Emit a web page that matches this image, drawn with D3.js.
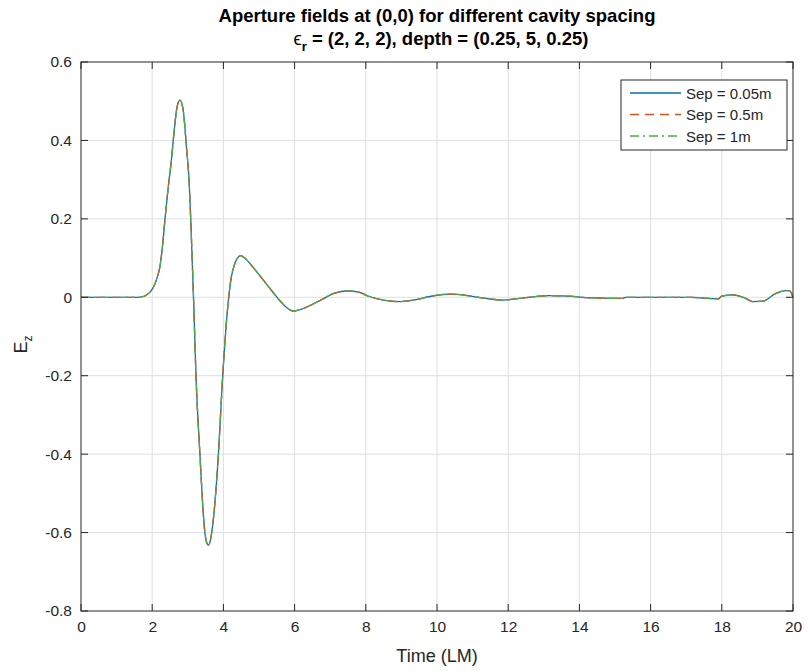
<!DOCTYPE html>
<html>
<head>
<meta charset="utf-8">
<script src="https://cdn.jsdelivr.net/npm/d3@7"></script>
<style>
  body { margin: 0; background: #fff; }
  svg { font-family: "Liberation Sans", Arial, sans-serif; }
</style>
</head>
<body>
<svg id="chart" width="808" height="671"></svg>
<script>
// sample times (LM)
var time = [0, 1.0, 1.6, 1.75, 1.9, 2.03, 2.12, 2.22, 2.3, 2.36, 2.45, 2.54, 2.62, 2.70, 2.78,
  2.87, 2.96, 3.04, 3.09, 3.16, 3.23, 3.34, 3.48, 3.54, 3.58, 3.62, 3.70, 3.86, 3.98, 4.07,
  4.15, 4.22, 4.3, 4.38, 4.49, 4.6, 4.8, 5.0, 5.2, 5.4, 5.6, 5.8, 5.96, 6.2, 6.5, 6.8, 7.1,
  7.5, 7.8, 8.1, 8.5, 8.96, 9.4, 9.8, 10.37, 10.8, 11.3, 11.85, 12.4, 13.17, 13.7, 14.2,
  15.2, 15.3, 17.1, 17.9, 18.0, 18.3, 18.65, 18.87, 19.15, 19.5, 19.8, 19.9, 20];

// Ez for each cavity separation (curves overlap almost exactly)
var sep005 = [0, 0, 0, 0.002, 0.01, 0.025, 0.045, 0.08, 0.14, 0.2, 0.28, 0.35, 0.427, 0.486, 0.503,
  0.478, 0.385, 0.29, 0.18, 0, -0.2, -0.4, -0.6, -0.628, -0.632, -0.625, -0.58, -0.4, -0.2, -0.08,
  0, 0.05, 0.08, 0.098, 0.106, 0.1, 0.08, 0.058, 0.035, 0.012, -0.01, -0.028, -0.035, -0.03, -0.018, -0.004, 0.01,
  0.016, 0.013, 0.002, -0.007, -0.011, -0.006, 0.002, 0.008, 0.005, -0.002, -0.007, -0.002, 0.004, 0.003, -0.001,
  -0.003, 0, 0, -0.004, 0.003, 0.006, -0.002, -0.011, -0.01, 0.009, 0.017, 0.017, 0.0];
var sep05 = [0, 0, 0, 0.002, 0.01, 0.025, 0.045, 0.08, 0.14, 0.2, 0.28, 0.35, 0.427, 0.486, 0.503,
  0.478, 0.385, 0.29, 0.18, 0, -0.2, -0.4, -0.6, -0.628, -0.632, -0.625, -0.58, -0.4, -0.2, -0.08,
  0, 0.05, 0.08, 0.098, 0.106, 0.1, 0.08, 0.058, 0.035, 0.012, -0.01, -0.028, -0.035, -0.03, -0.018, -0.004, 0.01,
  0.016, 0.013, 0.002, -0.007, -0.011, -0.006, 0.002, 0.008, 0.005, -0.002, -0.007, -0.002, 0.004, 0.003, -0.001,
  -0.003, 0, 0, -0.004, 0.003, 0.006, -0.002, -0.011, -0.01, 0.009, 0.017, 0.017, 0.0];
var sep1 = [0, 0, 0, 0.002, 0.01, 0.025, 0.045, 0.08, 0.14, 0.2, 0.28, 0.35, 0.427, 0.486, 0.503,
  0.478, 0.385, 0.29, 0.18, 0, -0.2, -0.4, -0.6, -0.628, -0.632, -0.625, -0.58, -0.4, -0.2, -0.08,
  0, 0.05, 0.08, 0.098, 0.106, 0.1, 0.08, 0.058, 0.035, 0.012, -0.01, -0.028, -0.035, -0.03, -0.018, -0.004, 0.01,
  0.016, 0.013, 0.002, -0.007, -0.011, -0.006, 0.002, 0.008, 0.005, -0.002, -0.007, -0.002, 0.004, 0.003, -0.001,
  -0.003, 0, 0, -0.004, 0.003, 0.006, -0.002, -0.011, -0.01, 0.009, 0.017, 0.017, 0.0];

var seriesNames = ["Sep = 0.05m", "Sep = 0.5m", "Sep = 1m"];
var seriesValues = [sep005, sep05, sep1];
var seriesColors = ["#0072bd", "#d95319", "#4dac4a"];
var seriesDash = [null, "9,6", "9,4,2,4"];

var xTicks = [0, 2, 4, 6, 8, 10, 12, 14, 16, 18, 20];
var yTicks = [-0.8, -0.6, -0.4, -0.2, 0, 0.2, 0.4, 0.6];

var axisColor = "#262626";
var margin = {left: 81, right: 15, top: 62, bottom: 60};
var W = 808, H = 671;

var svg = d3.select("svg#chart");

var x = d3.scaleLinear().domain([0, 20]).range([margin.left, W - margin.right]);
var y = d3.scaleLinear().domain([-0.8, 0.6]).range([H - margin.bottom, margin.top]);

// grid
var grid = svg.append("g").attr("class", "grid");
grid.selectAll("line.gx")
  .data(xTicks.slice(1, -1))
  .enter().append("line")
  .attr("x1", function(d) { return x(d); })
  .attr("x2", function(d) { return x(d); })
  .attr("y1", y(0.6)).attr("y2", y(-0.8))
  .style("stroke", "#dfdfdf").style("stroke-width", "1px");
grid.selectAll("line.gy")
  .data(yTicks.slice(1, -1))
  .enter().append("line")
  .attr("y1", function(d) { return y(d); })
  .attr("y2", function(d) { return y(d); })
  .attr("x1", x(0)).attr("x2", x(20))
  .style("stroke", "#dfdfdf").style("stroke-width", "1px");

// curves
var line = d3.line()
  .x(function(d) { return x(d[0]); })
  .y(function(d) { return y(d[1]); })
  .curve(d3.curveMonotoneX);

var curves = svg.append("g").attr("class", "curves");
seriesValues.forEach(function(vals, i) {
  curves.append("path")
    .datum(time.map(function(t, j) { return [t, vals[j]]; }))
    .attr("d", line)
    .style("fill", "none")
    .style("stroke", seriesColors[i])
    .style("stroke-width", "1.3px")
    .style("stroke-dasharray", seriesDash[i]);
});

// axes (ticks pointing inward, box on)
var tickLen = 7;
var xAxis = d3.axisBottom(x).tickValues(xTicks).tickSize(0).tickPadding(10).tickFormat(d3.format("d"));
var yAxis = d3.axisLeft(y).tickValues(yTicks).tickSize(0).tickPadding(9)
  .tickFormat(function(d) { return d === 0 ? "0" : d.toFixed(1); });  // plain hyphen minus like MATLAB

var gx = svg.append("g").attr("transform", "translate(0," + y(-0.8) + ")").call(xAxis);
var gy = svg.append("g").attr("transform", "translate(" + x(0) + ",0)").call(yAxis);
[gx, gy].forEach(function(g) {
  g.select(".domain").remove();
  g.selectAll("text").style("font-size", "15.5px").style("fill", axisColor);
});

var box = svg.append("g").attr("class", "box");
box.append("rect")
  .attr("x", x(0)).attr("y", y(0.6))
  .attr("width", x(20) - x(0)).attr("height", y(-0.8) - y(0.6))
  .style("fill", "none").style("stroke", axisColor).style("stroke-width", "1px");

xTicks.forEach(function(d) {
  box.append("line").attr("x1", x(d)).attr("x2", x(d))
    .attr("y1", y(-0.8)).attr("y2", y(-0.8) - tickLen).style("stroke", axisColor);
  box.append("line").attr("x1", x(d)).attr("x2", x(d))
    .attr("y1", y(0.6)).attr("y2", y(0.6) + tickLen).style("stroke", axisColor);
});
yTicks.forEach(function(d) {
  box.append("line").attr("y1", y(d)).attr("y2", y(d))
    .attr("x1", x(0)).attr("x2", x(0) + tickLen).style("stroke", axisColor);
  box.append("line").attr("y1", y(d)).attr("y2", y(d))
    .attr("x1", x(20)).attr("x2", x(20) - tickLen).style("stroke", axisColor);
});

// labels
var cx = (x(0) + x(20)) / 2;
svg.append("text")
  .attr("x", cx).attr("y", 662)
  .attr("text-anchor", "middle")
  .style("font-size", "18px").style("fill", axisColor)
  .text("Time (LM)");

var yl = svg.append("text")
  .attr("transform", "translate(27," + (y(-0.1) + 8) + ") rotate(-90)")
  .attr("text-anchor", "middle")
  .style("font-size", "18px").style("fill", axisColor);
yl.append("tspan").text("E");
yl.append("tspan").attr("dy", 5).style("font-size", "12px").text("z");

// title
svg.append("text")
  .attr("x", cx).attr("y", 22)
  .attr("text-anchor", "middle")
  .style("font-size", "18.5px").style("font-weight", "bold").style("fill", "#000")
  .text("Aperture fields at (0,0) for different cavity spacing");
var t2 = svg.append("text")
  .attr("x", cx + 4).attr("y", 45)
  .attr("text-anchor", "middle")
  .style("font-size", "18.5px").style("font-weight", "bold").style("fill", "#000");
t2.append("tspan").style("font-weight", "normal").text("\u03f5");
t2.append("tspan").attr("dy", 6).style("font-size", "13px").text("r");
t2.append("tspan").attr("dy", -6).text(" = (2, 2, 2), depth = (0.25, 5, 0.25)");

// legend
var legend = svg.append("g").attr("transform", "translate(621,80)");
legend.append("rect")
  .attr("width", 166).attr("height", 70)
  .style("fill", "#fff").style("stroke", axisColor).style("stroke-width", "1px");
seriesNames.forEach(function(name, i) {
  var ly = 13 + i * 21.5;
  legend.append("line")
    .attr("x1", 9).attr("x2", 60).attr("y1", ly).attr("y2", ly)
    .style("stroke", seriesColors[i]).style("stroke-width", "1.3px")
    .style("stroke-dasharray", seriesDash[i]);
  legend.append("text")
    .attr("x", 65).attr("y", ly + 5.5)
    .style("font-size", "15px").style("fill", axisColor)
    .text(name);
});
</script>
</body>
</html>
